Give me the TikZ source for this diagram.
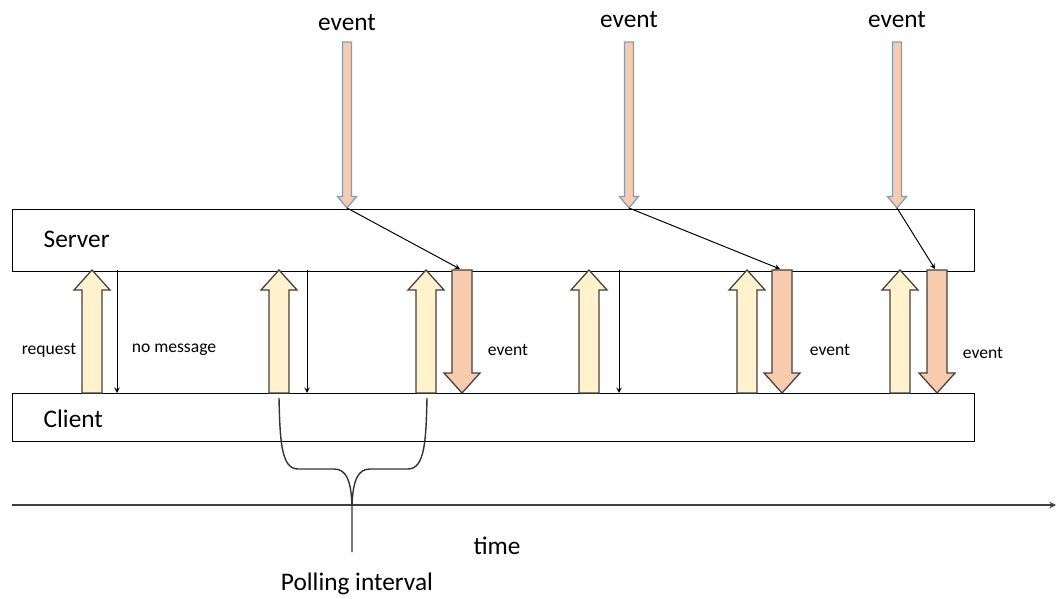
\documentclass[tikz,border=0pt]{standalone}
\usepackage{fontspec}
\setmainfont{Carlito}
\usetikzlibrary{arrows.meta}

\definecolor{reqfill}{HTML}{FFF2CC}
\definecolor{evfill}{HTML}{F8CBAD}
\definecolor{evline}{HTML}{7F9CC0}

% block arrow: style, x, tail y, tip y, half shaft, half head
\newcommand{\blockarrow}[6]{%
  \pgfmathsetmacro{\hb}{#4+(#6+2)*sign(#3-#4)}
  \draw[#1] (#2-#5,#3) -- (#2-#5,\hb) -- (#2-#6,\hb) -- (#2,#4)
    -- (#2+#6,\hb) -- (#2+#5,\hb) -- (#2+#5,#3) -- cycle;}

\begin{document}
\begin{tikzpicture}[
        x=0.025cm, y=-0.025cm,
        lane/.style={draw, line width=0.8pt, minimum width=24.05cm, anchor=north west, inner sep=0pt},
        bigtext/.style={font=\fontsize{18}{21}\selectfont, inner sep=1pt},
        smalltext/.style={font=\fontsize{12.5}{15}\selectfont, inner sep=1pt},
        reqarrow/.style={draw=black!75, line width=0.9pt, fill=reqfill, line join=miter},
        evarrow/.style={draw=black!75, line width=0.9pt, fill=evfill, line join=miter},
        srcarrow/.style={draw=evline, line width=0.9pt, fill=evfill, line join=miter},
        arrow/.style={->, line width=0.7pt, >=stealth},
        brace/.style={line width=1pt, black!80}
    ]
        \useasboundingbox (0,0) rectangle (1060,599);

        % Server und Client
        \node[lane, minimum height=1.55cm] (server) at (12,209) {};
        \node[lane, minimum height=1.2cm] (client) at (12,393) {};
        \node[bigtext, anchor=west] (servertext) at (42,239) {Server};
        \node[bigtext, anchor=west] (clienttext) at (42,419) {Client};

        % Ereignisse von aussen
        \foreach \x/\y [count=\i] in {347/23, 629/20, 897/20} {
            \node[bigtext] (evsrc\i) at (\x,\y) {event};
            \blockarrow{srcarrow}{\x}{42}{208}{4.5}{9.5}
            \coordinate (hit\i) at (\x,208);
        }

        % Anfragen des Clients
        \foreach \x in {92, 279, 426, 589, 747, 900} {
            \blockarrow{reqarrow}{\x}{393}{270}{10}{18}
        }

        % Antworten mit Ereignis
        \foreach \x [count=\i] in {462, 782, 937} {
            \blockarrow{evarrow}{\x}{270}{393}{10}{18}
            \coordinate (evtop\i) at (\x-2,269);
        }
        \draw[arrow] (hit1) -- (evtop1);
        \draw[arrow] (hit2) -- (evtop2);
        \draw[arrow] (hit3) -- (evtop3);

        % leere Antworten
        \foreach \x [count=\i] in {117, 307, 619} {
            \coordinate (nmtop\i) at (\x,270);
            \coordinate (nmbot\i) at (\x,393);
            \draw[arrow] (nmtop\i) -- (nmbot\i);
        }

        \node[smalltext] (reqlabel) at (49,350) {request};
        \node[smalltext] (nomsglabel) at (174,350) {no message};
        \node[smalltext] (evlabel1) at (508,350) {event};
        \node[smalltext] (evlabel2) at (830,350) {event};
        \node[smalltext] (evlabel3) at (983,353) {event};

        % Zeitachse
        \coordinate (tstart) at (12,505);
        \coordinate (tend) at (1056,505);
        \draw[->, >=stealth, line width=1.1pt, black!75] (tstart) -- (tend);
        \node[bigtext] (timelabel) at (497,546) {time};

        % Klammer
        \draw[brace] (279,398) .. controls (280,440) and (281,469) .. (298,469)
            -- (334,469) .. controls (346,469) and (351,480) .. (352,505)
            -- (352,552) -- (352,505)
            .. controls (353,480) and (358,469) .. (370,469)
            -- (408,469) .. controls (425,469) and (426,440) .. (427,398);
        \node[bigtext] (pollabel) at (357,584) {Polling interval};
\end{tikzpicture}
\end{document}
